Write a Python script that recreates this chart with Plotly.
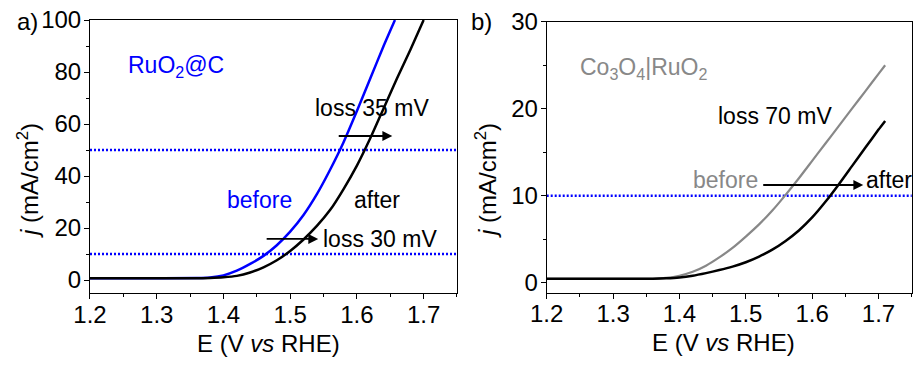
import plotly.graph_objects as go

# ---------------- data ----------------
# Panel a: RuO2@C
a_before_E = [1.20, 1.30, 1.36, 1.38, 1.40, 1.42, 1.44, 1.46, 1.48, 1.50, 1.52, 1.54, 1.56, 1.58, 1.60, 1.62, 1.64, 1.657]
a_before_j = [0.7, 0.7, 0.75, 1.0, 1.8, 3.6, 6.2, 9.3, 13.4, 18.6, 25.0, 33.0, 42.5, 53.0, 65.0, 77.5, 90.0, 100.0]
a_after_E = [1.20, 1.30, 1.36, 1.38, 1.40, 1.42, 1.44, 1.46, 1.48, 1.50, 1.52, 1.54, 1.56, 1.58, 1.60, 1.62, 1.64, 1.66, 1.68, 1.70]
a_after_j = [0.7, 0.7, 0.7, 0.8, 1.05, 1.6, 2.9, 4.9, 7.6, 11.2, 15.6, 20.8, 27.0, 35.0, 44.0, 54.5, 66.0, 77.5, 88.5, 100.0]
a_ref_levels = [10, 50]

# Panel b: Co3O4|RuO2
b_before_E = [1.20, 1.30, 1.36, 1.38, 1.40, 1.42, 1.44, 1.46, 1.48, 1.50, 1.52, 1.54, 1.56, 1.58, 1.60, 1.62, 1.64, 1.66, 1.68, 1.70, 1.71]
b_before_j = [0.45, 0.45, 0.45, 0.55, 0.8, 1.25, 1.95, 2.9, 4.0, 5.3, 6.7, 8.3, 10.1, 12.0, 14.0, 16.0, 18.0, 20.0, 22.0, 24.0, 25.0]
b_after_E = [1.20, 1.30, 1.36, 1.38, 1.40, 1.42, 1.44, 1.46, 1.48, 1.50, 1.52, 1.54, 1.56, 1.58, 1.60, 1.62, 1.64, 1.66, 1.68, 1.70, 1.71]
b_after_j = [0.45, 0.45, 0.45, 0.5, 0.6, 0.8, 1.1, 1.45, 1.85, 2.35, 3.0, 3.8, 4.8, 6.0, 7.5, 9.3, 11.3, 13.4, 15.5, 17.6, 18.6]
b_ref_levels = [10]

x_ticks = [1.2, 1.3, 1.4, 1.5, 1.6, 1.7]
a_y_ticks = [0, 20, 40, 60, 80, 100]
b_y_ticks = [0, 10, 20, 30]

FONT = "Arial, Liberation Sans, sans-serif"
BLUE = "#0000ff"
GRAY = "#888888"
FS = 24
AFS = 23

fig = go.Figure()
fig.add_trace(go.Scatter(x=a_before_E, y=a_before_j, mode="lines", line=dict(color=BLUE, width=2.5, shape="spline", smoothing=0.6),
                         xaxis="x", yaxis="y", showlegend=False))
fig.add_trace(go.Scatter(x=a_after_E, y=a_after_j, mode="lines", line=dict(color="black", width=2.5, shape="spline", smoothing=0.6),
                         xaxis="x", yaxis="y", showlegend=False))
fig.add_trace(go.Scatter(x=b_before_E, y=b_before_j, mode="lines", line=dict(color=GRAY, width=2.2, shape="spline", smoothing=0.6),
                         xaxis="x2", yaxis="y2", showlegend=False))
fig.add_trace(go.Scatter(x=b_after_E, y=b_after_j, mode="lines", line=dict(color="black", width=2.5, shape="spline", smoothing=0.6),
                         xaxis="x2", yaxis="y2", showlegend=False))

shapes = []
for lv in a_ref_levels:
    shapes.append(dict(type="line", xref="x domain", yref="y", x0=0, x1=1, y0=lv, y1=lv,
                       line=dict(color=BLUE, width=2.5, dash="2px,2px"), layer="below"))
for lv in b_ref_levels:
    shapes.append(dict(type="line", xref="x2 domain", yref="y2", x0=0, x1=1, y0=lv, y1=lv,
                       line=dict(color=BLUE, width=2.5, dash="2px,2px"), layer="below"))

axis_common = dict(showline=True, linecolor="black", linewidth=1, mirror=True, ticks="outside", ticklen=5,
                   tickwidth=1, tickcolor="black", showgrid=False, zeroline=False,
                   tickfont=dict(family=FONT, size=FS, color="black"), automargin=False)

fig.update_layout(
    width=916, height=365, margin=dict(l=0, r=0, t=0, b=0),
    paper_bgcolor="white", plot_bgcolor="white",
    font=dict(family=FONT, size=FS, color="black"),
    xaxis=dict(domain=[0.09825, 0.49891], range=[1.2, 1.75], tickvals=x_ticks, tickformat=".1f", ticklabelstandoff=-5,
               minor=dict(dtick=0.05, tick0=1.2, ticks="outside", ticklen=3, tickcolor="black"), anchor="y", **axis_common),
    yaxis=dict(domain=[0.1964, 0.9452], range=[-5.1, 100], tickvals=a_y_ticks, ticklabelstandoff=-2,
               minor=dict(dtick=10, tick0=0, ticks="outside", ticklen=3, tickcolor="black"), anchor="x", **axis_common),
    xaxis2=dict(domain=[0.59683, 0.99531], range=[1.2, 1.75], tickvals=x_ticks, tickformat=".1f", ticklabelstandoff=-5,
                minor=dict(dtick=0.05, tick0=1.2, ticks="outside", ticklen=3, tickcolor="black"), anchor="y2", **axis_common),
    yaxis2=dict(domain=[0.1981, 0.9405], range=[-1.15, 30], tickvals=b_y_ticks, ticklabelstandoff=-2,
                minor=dict(dtick=5, tick0=0, ticks="outside", ticklen=3, tickcolor="black"), anchor="x2", **axis_common),
    shapes=shapes,
)

ann = []
def txt(text, x, y, xref, yref, color="black", size=AFS, xanchor="center", yanchor="middle", angle=0):
    ann.append(dict(text=text, x=x, y=y, xref=xref, yref=yref, showarrow=False, xanchor=xanchor, yanchor=yanchor,
                    textangle=angle, font=dict(family=FONT, size=size, color=color)))

def arrow(x0, x1, y, xref, yref):
    ann.append(dict(text="", x=x1, y=y, ax=x0, ay=y, xref=xref, yref=yref, axref=xref, ayref=yref,
                    showarrow=True, arrowhead=2, arrowsize=1.1, arrowwidth=1.8, arrowcolor="black"))

# panel labels
txt("a)", 27 / 916, 1 - 22 / 365, "paper", "paper", size=24)
txt("b)", 481 / 916, 1 - 22 / 365, "paper", "paper", size=24)

# axis titles
txt("<i>j</i> (mA/cm<sup>2</sup>)", 28 / 916, 1 - 181 / 365, "paper", "paper", size=FS, angle=-90)
txt("<i>j</i> (mA/cm<sup>2</sup>)", 486 / 916, 1 - 180 / 365, "paper", "paper", size=FS, angle=-90)
txt("E (V <i>vs</i> RHE)", 268 / 916, 1 - 343 / 365, "paper", "paper", size=FS)
txt("E (V <i>vs</i> RHE)", 723 / 916, 1 - 342 / 365, "paper", "paper", size=FS)

# panel a texts
txt("RuO<sub>2</sub>@C", 1.254, 82.0, "x", "y", color=BLUE, xanchor="left")
txt("loss 35 mV", 1.622, 66.2, "x", "y")
txt("before", 1.454, 30.8, "x", "y", color=BLUE)
txt("after", 1.63, 30.8, "x", "y")
txt("loss 30 mV", 1.634, 15.8, "x", "y")
arrow(1.5705, 1.653, 55.4, "x", "y")
arrow(1.4625, 1.542, 15.8, "x", "y")

# panel b texts
txt("Co<sub>3</sub>O<sub>4</sub>|RuO<sub>2</sub>", 1.247, 24.6, "x2", "y2", color=GRAY, xanchor="left")
txt("loss 70 mV", 1.544, 19.2, "x2", "y2")
txt("before", 1.5216, 11.8, "x2", "y2", color=GRAY, xanchor="right")
txt("after", 1.7153, 11.8, "x2", "y2")
arrow(1.524, 1.677, 11.23, "x2", "y2")

fig.update_layout(annotations=ann)
fig.write_html("out.html")
